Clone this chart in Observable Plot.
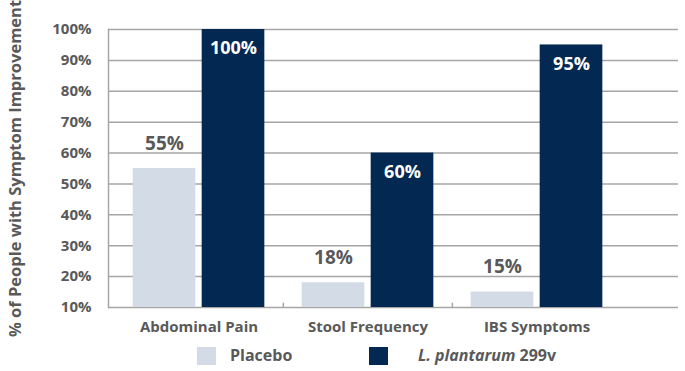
<!DOCTYPE html>
<html>
<head>
<meta charset="utf-8">
<script src="https://cdn.jsdelivr.net/npm/d3@7"></script>
<script src="https://cdn.jsdelivr.net/npm/@observablehq/plot@0.6"></script>
<style>
  html, body { margin: 0; padding: 0; background: #fff; }
  #wrap { position: relative; width: 685px; height: 371px; font-family: "Open Sans", sans-serif; }
  #chart svg { display: block; }
  .legend { position: absolute; top: 347px; left: 0; width: 685px; height: 20px; }
  .sw { position: absolute; top: 0; width: 19px; height: 18px; }
  .lt { position: absolute; top: -2px; font-size: 16px; font-weight: 700; color: #595959; line-height: 20px; white-space: nowrap; }
</style>
</head>
<body>
<div id="wrap">
  <div id="chart"></div>
  <div class="legend" id="legend"></div>
</div>
<script>
const categories = ["Abdominal Pain", "Stool Frequency", "IBS Symptoms"];
const placeboValues = [55, 18, 15];
const plantarumValues = [100, 60, 95];
const seriesNames = ["Placebo", "L. plantarum 299v"];
const seriesColors = ["#d3dbe6", "#032852"];
const yTicks = [10, 20, 30, 40, 50, 60, 70, 80, 90, 100];

const placebo = categories.map((c, i) => ({category: c, value: placeboValues[i]}));
const plantarum = categories.map((c, i) => ({category: c, value: plantarumValues[i]}));

const xRange = [113, 621];
const step = (xRange[1] - xRange[0]) / categories.length;
const half = step / 2;
const barW = 63, gap = 3;
const textColor = "#595959";
const gridColor = "#a6a6a6";

const chart = Plot.plot({
  width: 685,
  height: 340,
  marginLeft: 108,
  marginRight: 7,
  marginTop: 29,
  marginBottom: 33,
  style: {fontFamily: "'Open Sans', sans-serif", color: textColor, background: "#fff"},
  x: {domain: categories, range: xRange, padding: 0},
  y: {domain: [10, 100], ticks: yTicks},
  marks: [
    Plot.gridY(yTicks, {stroke: gridColor, strokeOpacity: 1, strokeWidth: 1.5}),
    Plot.frame({anchor: "left", stroke: gridColor, strokeWidth: 1.5}),
    Plot.ruleX(categories.slice(1), {x: d => d, y1: 10, y2: 11.4, dx: -half, stroke: gridColor, strokeWidth: 1.5}),
    Plot.barY(placebo, {x: "category", y1: 10, y2: "value", fill: seriesColors[0],
      insetLeft: half - gap - barW, insetRight: half + gap}),
    Plot.barY(plantarum, {x: "category", y1: 10, y2: "value", fill: seriesColors[1],
      insetLeft: half + gap, insetRight: half - gap - barW}),
    Plot.text(placebo, {x: "category", y: "value", text: d => d.value + "%",
      dx: -(gap + barW / 2), dy: -25, fill: textColor, fontSize: 19, fontWeight: 700}),
    Plot.text(plantarum, {x: "category", y: "value", text: d => d.value + "%",
      dx: gap + barW / 2, dy: 19, fill: "#fff", fontSize: 18, fontWeight: 700}),
    Plot.axisY({ticks: yTicks, tickFormat: d => d + "%", tickSize: 0, tickPadding: 17,
      fontSize: 15, fontWeight: 700, fill: textColor,
      label: "% of People with Symptom Improvement", labelAnchor: "center", labelArrow: "none", labelOffset: 99}),
    Plot.axisX({tickSize: 0, tickPadding: 14, fontSize: 15, fontWeight: 700, fill: textColor, label: null})
  ]
});
document.getElementById("chart").appendChild(chart);
// style the y-axis title
d3.select(chart).selectAll("[aria-label='y-axis label'] text, [aria-label='y-axis label']")
  .attr("font-size", 16.5).attr("font-weight", 700).attr("fill", textColor);

const legend = document.getElementById("legend");
const legendX = [[197, 230], [369, 418]];
seriesNames.forEach((name, i) => {
  const sw = document.createElement("div");
  sw.className = "sw";
  sw.style.left = legendX[i][0] + "px";
  sw.style.background = seriesColors[i];
  legend.appendChild(sw);
  const t = document.createElement("div");
  t.className = "lt";
  t.style.left = legendX[i][1] + "px";
  if (i === 1) {
    const parts = name.split(" ");
    t.innerHTML = "<i>" + parts.slice(0, 2).join(" ") + "</i> " + parts.slice(2).join(" ");
  } else {
    t.textContent = name;
  }
  legend.appendChild(t);
});
</script>
</body>
</html>
